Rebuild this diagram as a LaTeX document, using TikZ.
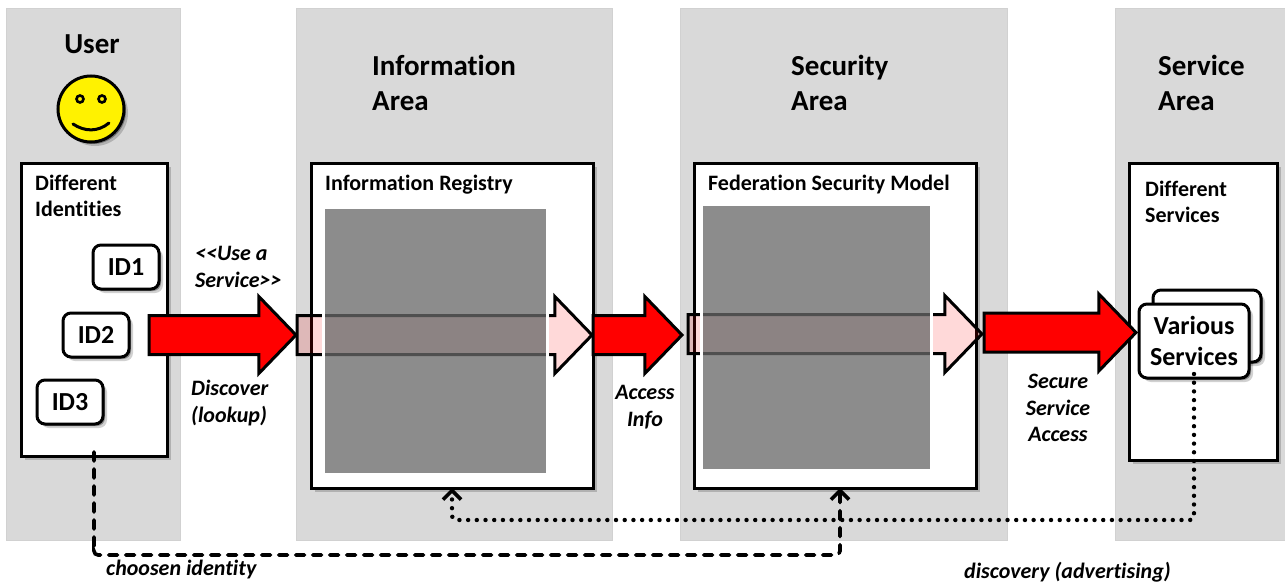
\documentclass[tikz,border=0pt]{standalone}
\usepackage{fontspec}
\setmainfont[Ligatures=NoCommon]{Carlito}
\usetikzlibrary{shapes.arrows,shadows,arrows.meta}
\definecolor{bandgray}{HTML}{D9D9D9}
\definecolor{hidegray}{HTML}{686868}
\tikzset{
  band/.style={fill=bandgray,draw=black!18,line width=.6pt,anchor=north west,inner sep=0,outer sep=0},
  heading/.style={font=\fontsize{29}{35}\selectfont\bfseries,align=left,inner sep=0},
  softshadow/.style={general shadow={shadow xshift=2pt,shadow yshift=-2pt,fill=black,opacity=.35},
    general shadow={shadow xshift=4pt,shadow yshift=-4pt,fill=black,opacity=.18}},
  box/.style={draw,line width=3pt,fill=white,anchor=north west,inner sep=0,outer sep=0,softshadow},
  boxtext/.style={font=\fontsize{22}{26}\selectfont\bfseries,align=left,anchor=north west,inner sep=0},
  idbox/.style={draw,line width=3pt,fill=white,rounded corners=8pt,minimum width=66,minimum height=44,
    font=\fontsize{26}{31}\selectfont\bfseries,softshadow,outer sep=0},
  blockarrow/.style={shape=single arrow,single arrow tip angle=92,line width=3pt,draw=black,inner xsep=0,inner ysep=18,outer sep=0,
    single arrow head extend=19,anchor=tip},
  redarrow/.style={blockarrow,fill=red},
  palearrow/.style={blockarrow,fill=red,fill opacity=.15},
  hidden/.style={draw=white,line width=3pt,fill=hidegray,fill opacity=.76,anchor=north west,inner sep=0,outer sep=0},
  note/.style={font=\fontsize{22}{26.5}\selectfont\bfseries\itshape,align=left,inner sep=0},
  link/.style={rounded corners=4pt,-{Straight Barb[length=9pt,width=18pt,line width=3.6pt]}},
}
\begin{document}
\begin{tikzpicture}[x=1pt,y=-1pt]
\useasboundingbox (0,0) rectangle (1285,586);
% grey areas
\node[band,minimum width=174,minimum height=532](userarea) at (6,8) {};
\node[band,minimum width=316,minimum height=532](infoarea) at (296,8) {};
\node[band,minimum width=327,minimum height=532](secarea) at (680,8) {};
\node[band,minimum width=175,minimum height=532](servicearea) at (1115,8) {};
\node[heading](usertitle) at (92,44) {User};
\node[heading,anchor=west](infotitle) at (372,83) {Information\\Area};
\node[heading,anchor=west](sectitle) at (791,83) {Security\\Area};
\node[heading,anchor=west](servicetitle) at (1158,83) {Service\\Area};
% smiley
\node[circle,draw,line width=3pt,fill=yellow,minimum size=66,inner sep=0,softshadow](face) at (91,109) {};
\node[circle,draw,line width=2.6pt,minimum size=7,inner sep=0](lefteye) at (80,99) {};
\node[circle,draw,line width=2.6pt,minimum size=7,inner sep=0](righteye) at (102,99) {};
\draw[line width=3pt,line cap=round] (73,124) .. controls (85,132) and (98,132) .. (109,123);
% white boxes
\node[box,minimum width=146,minimum height=293](identities) at (21,163) {};
\node[box,minimum width=282,minimum height=325](registry) at (311,163) {};
\node[box,minimum width=282,minimum height=325](federation) at (694,163) {};
\node[box,minimum width=148,minimum height=297](services) at (1129,163) {};
\node[boxtext](identext) at (35,175) {Different\\Identities};
\node[boxtext](registrytext) at (325,175) {Information Registry};
\node[boxtext](federationtext) at (708,175) {Federation Security Model};
\node[boxtext](servicestext) at (1145,181) {Different\\Services};
\node[idbox](id1) at (126,267) {ID1};
\node[idbox](id2) at (96,335) {ID2};
\node[idbox](id3) at (70,402) {ID3};
\node[idbox,minimum width=108,minimum height=72](various2) at (1207,326) {};
\node[idbox,minimum width=110,minimum height=74,align=center](various) at (1194,341) {Various\\Services};
% arrows
\node[palearrow,minimum height=295](passinfo) at (592,335) {};
\node[palearrow,minimum height=294](passsec) at (982,334) {};
\node[hidden,minimum width=224,minimum height=267](hideinfo) at (323.5,207.5) {};
\node[hidden,minimum width=230,minimum height=266](hidesec) at (701.5,204.5) {};
\node[redarrow,minimum height=147](arrow1) at (296,335) {};
\node[redarrow,minimum height=89](arrow2) at (682,335) {};
\node[redarrow,minimum height=152](arrow3) at (1136,332.5) {};
% links
\draw[link,line width=3.6pt,line cap=round,dash pattern=on 9pt off 8pt] ([yshift=4]identities.south) |- (94,555) -| ([xshift=5]federation.south);
\draw[link,line width=4.4pt,line cap=round,dash pattern=on 0pt off 8.7pt] ([yshift=4]various.south) |- (452,520) -- (registry.south);
% labels
\node[note,anchor=west](uselabel) at (195,267) {<{}<Use a\\Service>{}>};
\node[note,anchor=west](discoverlabel) at (191,403) {Discover\\(lookup)};
\node[note,align=center](accesslabel) at (645,407) {Access\\Info};
\node[note,align=center](securelabel) at (1058,408) {Secure\\Service\\Access};
\node[note,anchor=west](chosenlabel) at (106,570) {choosen identity};
\node[note,anchor=west](discoverylabel) at (964,572) {discovery (advertising)};
\end{tikzpicture}
\end{document}
